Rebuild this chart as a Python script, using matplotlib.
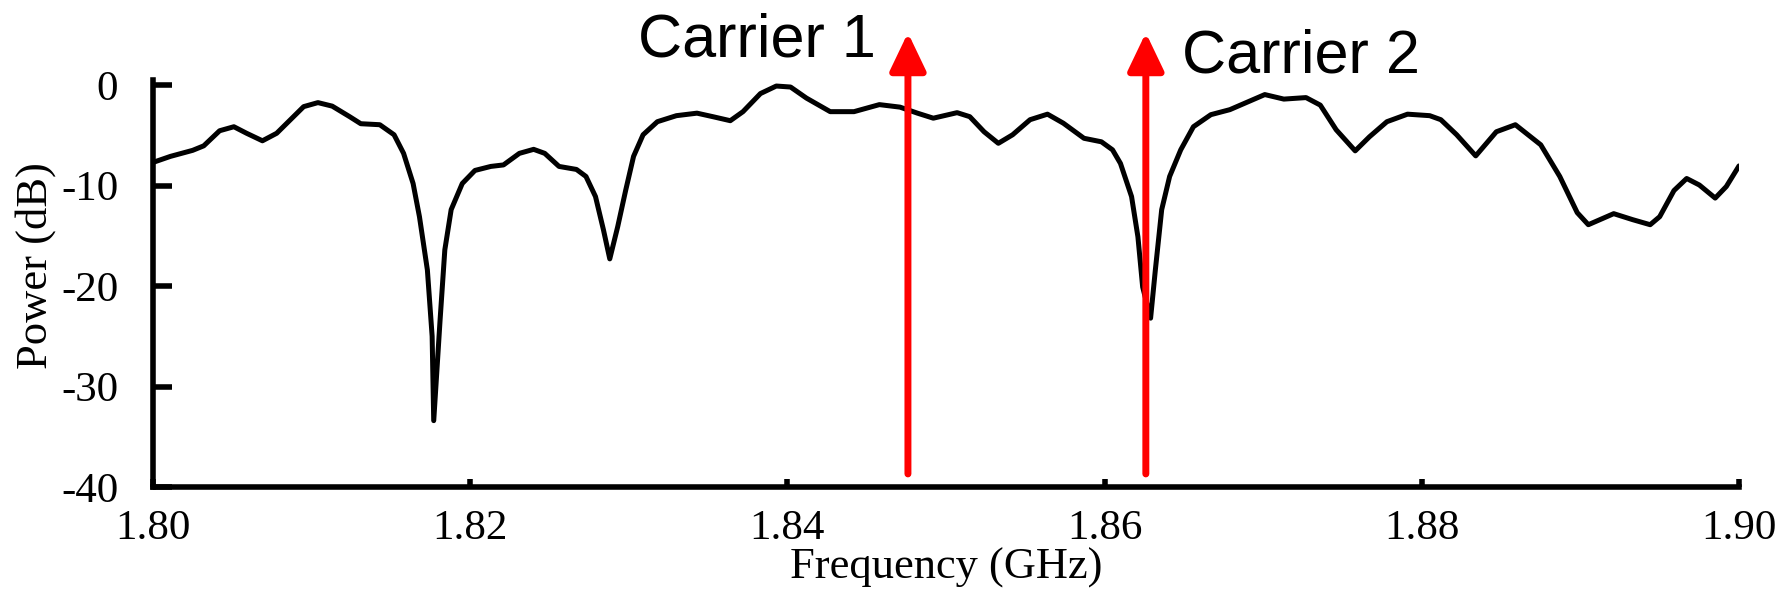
import numpy as np
import matplotlib
matplotlib.use("Agg")
import matplotlib.pyplot as plt
from matplotlib.patches import ArrowStyle

plt.rcParams["axes.unicode_minus"] = False

# ── Data ─────────────────────────────────────────────────────────────────────
freq_ghz = [
    1.8000, 1.8011, 1.8025, 1.8032, 1.8042, 1.8051, 1.8059, 1.8069, 1.8078,
    1.8095, 1.8104, 1.8113, 1.8124, 1.8131, 1.8143, 1.8152, 1.8158, 1.8164,
    1.8168, 1.8173, 1.8176, 1.8177, 1.8181, 1.8184, 1.8188, 1.8195, 1.8203,
    1.8213, 1.8221, 1.8231, 1.8240, 1.8247, 1.8256, 1.8267, 1.8273, 1.8279,
    1.8284, 1.8288, 1.8293, 1.8298, 1.8303, 1.8309, 1.8318, 1.8330, 1.8343,
    1.8353, 1.8364, 1.8372, 1.8383, 1.8393, 1.8402, 1.8412, 1.8427, 1.8442,
    1.8458, 1.8471, 1.8482, 1.8492, 1.8507, 1.8515, 1.8524, 1.8533, 1.8542,
    1.8553, 1.8564, 1.8574, 1.8587, 1.8598, 1.8605, 1.8610, 1.8617, 1.8621,
    1.8624, 1.8629, 1.8632, 1.8636, 1.8641, 1.8648, 1.8656, 1.8667, 1.8679,
    1.8690, 1.8701, 1.8713, 1.8727, 1.8736, 1.8746, 1.8758, 1.8767, 1.8778,
    1.8791, 1.8805, 1.8812, 1.8822, 1.8834, 1.8847, 1.8859, 1.8875, 1.8887,
    1.8898, 1.8905, 1.8921, 1.8933, 1.8944, 1.8950, 1.8959, 1.8967, 1.8975,
    1.8985, 1.8992, 1.9000,
]
power_db = [
    -7.7, -7.1, -6.5, -6.05, -4.55, -4.15, -4.8, -5.55, -4.8,
    -2.15, -1.75, -2.1, -3.15, -3.85, -3.95, -4.95, -6.8, -9.8,
    -13.1, -18.4, -25.0, -33.4, -23.4, -16.4, -12.4, -9.8, -8.5,
    -8.1, -7.95, -6.8, -6.4, -6.8, -8.1, -8.4, -9.1, -11.1,
    -14.4, -17.3, -14.1, -10.5, -7.1, -4.95, -3.65, -3.05, -2.8,
    -3.15, -3.55, -2.65, -0.85, -0.1, -0.2, -1.3, -2.65, -2.65,
    -1.95, -2.2, -2.8, -3.3, -2.75, -3.15, -4.65, -5.8, -4.95,
    -3.45, -2.9, -3.8, -5.3, -5.65, -6.45, -7.8, -11.1, -15.1,
    -20.1, -23.2, -18.4, -12.4, -9.1, -6.45, -4.15, -2.95, -2.45,
    -1.7, -0.95, -1.4, -1.25, -2.0, -4.45, -6.55, -5.15, -3.65,
    -2.9, -3.05, -3.45, -4.95, -7.05, -4.65, -3.95, -5.95, -9.1,
    -12.7, -13.9, -12.8, -13.4, -13.9, -13.1, -10.5, -9.3, -9.95,
    -11.25, -10.1, -8.05,
]

carrier_freqs = [1.8476, 1.8626]
carrier_labels = ["Carrier 1", "Carrier 2"]
carrier_label_x = [1.8306, 1.8649]
carrier_label_y = [2.83, 1.29]

x_ticks = [1.80, 1.82, 1.84, 1.86, 1.88, 1.90]
y_ticks = [0, -10, -20, -30, -40]

# ── Plot ─────────────────────────────────────────────────────────────────────
W, H = 1787, 608
fig = plt.figure(figsize=(W / 100, H / 100), dpi=100)
ax = fig.add_axes([153 / W, 1 - 487 / H, (1739 - 153) / W, (487 - 80) / H])

ax.plot(freq_ghz, power_db, color="black", linewidth=3.6,
        solid_joinstyle="round", solid_capstyle="round")

arrow = ArrowStyle("-|>", head_length=23, head_width=11)
for f in carrier_freqs:
    ax.annotate("", xy=(f, 5.2), xytext=(f, -38.7),
                arrowprops=dict(arrowstyle=arrow, color="red", lw=5,
                                mutation_scale=1, shrinkA=0, shrinkB=0),
                annotation_clip=False)

for lbl, lx, ly in zip(carrier_labels, carrier_label_x, carrier_label_y):
    ax.text(lx, ly, lbl, fontsize=44, family="Liberation Sans",
            ha="left", va="baseline", clip_on=False)

ax.set_xlim(1.80, 1.90)
ax.set_ylim(-40, 0.5)
ax.set_xticks(x_ticks)
ax.set_xticklabels([f"{v:.2f}" for v in x_ticks])
ax.set_yticks(y_ticks)
ax.set_yticklabels([str(v) for v in y_ticks])

for s in ["top", "right"]:
    ax.spines[s].set_visible(False)
for s in ["left", "bottom"]:
    ax.spines[s].set_linewidth(4)
ax.spines["bottom"].set_capstyle("projecting")

ax.tick_params(axis="y", direction="in", length=14, width=4, pad=25,
               labelsize=31, labelfontfamily="Liberation Serif")
ax.tick_params(axis="x", direction="in", length=6, width=4, pad=16,
               labelsize=31, labelfontfamily="Liberation Serif")

ax.set_xlabel("Frequency (GHz)", fontsize=32, family="Liberation Serif",
              labelpad=0)
ax.set_ylabel("Power (dB)", fontsize=32, family="Liberation Serif")
ax.yaxis.set_label_coords(-0.061, 0.543)

plt.savefig("out.png", dpi=100)
